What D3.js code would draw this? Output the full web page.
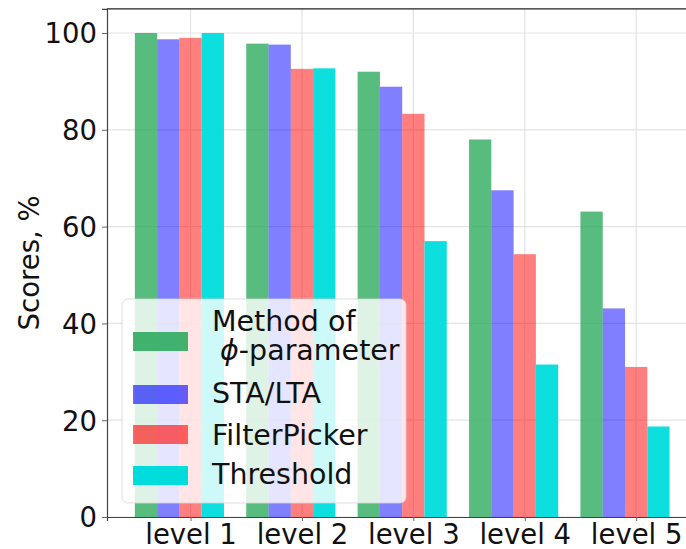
<!DOCTYPE html>
<html>
<head>
<meta charset="utf-8">
<script src="https://cdn.jsdelivr.net/npm/d3@7"></script>
<style>
  html, body { margin: 0; padding: 0; background: #fff; }
  svg { display: block; font-family: "DejaVu Sans", sans-serif; }
</style>
</head>
<body>
<svg id="chart" width="686" height="549"></svg>
<script>
// Detection scores per noise level for each picking method
const categories = ["level 1", "level 2", "level 3", "level 4", "level 5"];
const phiMethod    = [100.0, 97.8, 92.0, 78.0, 63.1];
const staLta       = [98.7, 97.6, 88.9, 67.5, 43.1];
const filterPicker = [99.0, 92.6, 83.3, 54.3, 31.0];
const threshold    = [100.0, 92.7, 57.0, 31.5, 18.7];
const yTicks = [0, 20, 40, 60, 80, 100];

const series = [
  { name: "Method of", name2: "-parameter", values: phiMethod, color: "#2fab5f", opacity: 0.8 },
  { name: "STA/LTA", values: staLta, color: "#0000ff", opacity: 0.5 },
  { name: "FilterPicker", values: filterPicker, color: "#ff0000", opacity: 0.5 },
  { name: "Threshold", values: threshold, color: "#00dcdc", opacity: 0.95 }
];

const svg = d3.select("#chart");
const plot = { left: 107, top: 8.8, bottom: 517 };
const barW = 0.2;

// x: category index in data units; tick sits on the third bar of each group
const x = d3.scaleLinear().domain([-0.75, 4.55]).range([plot.left, plot.left + 5.3 * 111.4]);
const y = d3.scaleLinear().domain([0, 105]).range([plot.bottom, plot.top]);

const W = 686;

// grid
const grid = svg.append("g");
grid.selectAll("line.h").data(yTicks).join("line")
  .attr("x1", plot.left).attr("x2", W + 20)
  .attr("y1", d => y(d)).attr("y2", d => y(d))
  .attr("stroke", "#e3e3e3").attr("stroke-width", 1.2);
grid.selectAll("line.v").data(categories).join("line")
  .attr("x1", (d, i) => x(i)).attr("x2", (d, i) => x(i))
  .attr("y1", plot.top).attr("y2", plot.bottom)
  .attr("stroke", "#e3e3e3").attr("stroke-width", 1.2);

// bars
series.forEach((s, j) => {
  svg.append("g").selectAll("rect").data(s.values).join("rect")
    .attr("x", (d, i) => x(i + (j - 2) * barW - barW / 2))
    .attr("width", x(barW) - x(0))
    .attr("y", d => y(d))
    .attr("height", d => y(0) - y(d))
    .attr("fill", s.color)
    .attr("fill-opacity", s.opacity);
});

// axes
const yAxis = svg.append("g")
  .attr("transform", `translate(${plot.left},0)`)
  .call(d3.axisLeft(y).tickValues(yTicks).tickSize(5).tickPadding(5));
const xAxis = svg.append("g")
  .attr("transform", `translate(0,${plot.bottom})`)
  .call(d3.axisBottom(x).tickValues(d3.range(categories.length))
    .tickFormat(i => categories[i]).tickSize(4).tickPadding(3));

[yAxis, xAxis].forEach(a => {
  a.select(".domain").attr("stroke", "#444").attr("stroke-width", 1.2);
  a.selectAll(".tick line").attr("stroke", "#666").attr("stroke-width", 1);
  a.selectAll(".tick text").attr("fill", "#111").style("font-size", "27.5px")
    .style("font-family", "'DejaVu Sans', sans-serif");
});
yAxis.selectAll(".tick text").attr("dy", "0.36em");
xAxis.selectAll(".tick text").attr("dy", "0.74em");

// top spine
svg.append("line")
  .attr("x1", plot.left).attr("x2", W + 20)
  .attr("y1", plot.top).attr("y2", plot.top)
  .attr("stroke", "#222").attr("stroke-width", 1.2);

// y label
svg.append("text")
  .attr("transform", `translate(39,${(plot.top + plot.bottom) / 2}) rotate(-90)`)
  .attr("text-anchor", "middle")
  .attr("fill", "#111")
  .style("font-size", "27.5px")
  .text("Scores, %");

// legend
const leg = svg.append("g");
leg.append("rect")
  .attr("x", 122).attr("y", 299).attr("width", 284).attr("height", 204)
  .attr("rx", 6).attr("ry", 6)
  .attr("fill", "#fff").attr("fill-opacity", 0.8)
  .attr("stroke", "#d6d6d6").attr("stroke-opacity", 0.8);

const handleY = [332, 385, 425, 466];
const textY = [331, 403, 445, 484];
const legendFont = "28.5px";
series.forEach((s, j) => {
  leg.append("rect")
    .attr("x", 133).attr("y", handleY[j]).attr("width", 55).attr("height", 19)
    .attr("fill", s.color).attr("fill-opacity", Math.min(1, s.opacity + 0.1));
  const t = leg.append("text").attr("fill", "#111").style("font-size", legendFont);
  if (s.name2) {
    // two-line label: "Method of" / "ϕ-parameter"
    t.append("tspan").attr("x", 212).attr("y", textY[j]).text(s.name);
    t.append("tspan").attr("x", 220).attr("y", textY[j] + 29)
      .style("font-style", "italic").text("\u03D5");
    t.append("tspan").text(s.name2);
  } else {
    t.attr("x", 212).attr("y", textY[j]).text(s.name);
  }
});
</script>
</body>
</html>
